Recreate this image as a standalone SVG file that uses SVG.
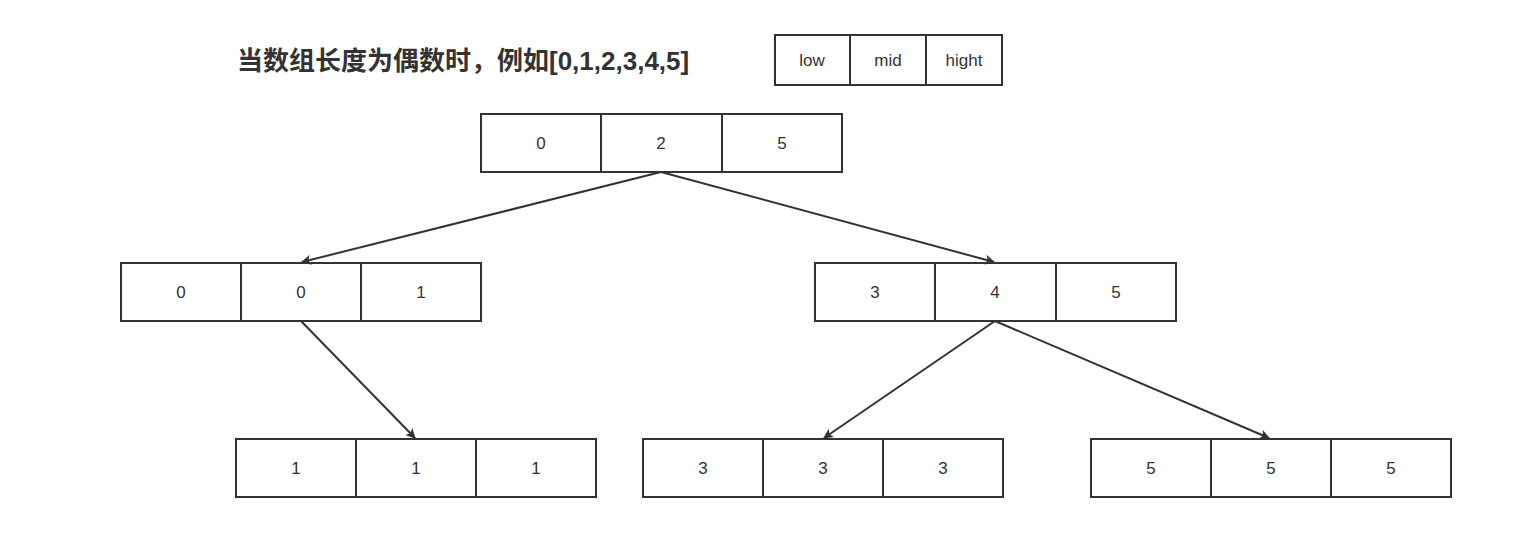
<svg xmlns="http://www.w3.org/2000/svg" width="1530" height="560" viewBox="0 0 1530 560">
<style>
.c{fill:#fff;stroke:#333;stroke-width:2}
.t{font-family:"Liberation Sans","Noto Sans CJK SC",sans-serif;font-size:17px;fill:#333;text-anchor:middle;dominant-baseline:central}
.e{stroke:#333;stroke-width:2;fill:none;marker-end:url(#a)}
</style>
<defs><marker id="a" markerWidth="10" markerHeight="10" refX="9" refY="5" orient="auto" markerUnits="userSpaceOnUse"><path d="M0,0 L10,5 L0,10 L2.5,5 Z" fill="#333"/></marker></defs>
<rect width="1530" height="560" fill="#fff"/>
<text x="237" y="61" style="font-family:'Liberation Sans','Noto Sans CJK SC',sans-serif;font-size:26px;font-weight:bold;fill:#333;dominant-baseline:central">当数组长度为偶数时，例如[0,1,2,3,4,5]</text>
<g id="legend"><rect class="c" x="775" y="35" width="75" height="50"/><rect class="c" x="850" y="35" width="76" height="50"/><rect class="c" x="926" y="35" width="76" height="50"/>
<text class="t" x="812" y="60">low</text><text class="t" x="888" y="60">mid</text><text class="t" x="964" y="60">hight</text></g>
<g id="n1"><rect class="c" x="481" y="114" width="120" height="58"/><rect class="c" x="601" y="114" width="121" height="58"/><rect class="c" x="722" y="114" width="120" height="58"/>
<text class="t" x="541" y="143">0</text><text class="t" x="661" y="143">2</text><text class="t" x="782" y="143">5</text></g>
<g id="n2"><rect class="c" x="121" y="263" width="120" height="58"/><rect class="c" x="241" y="263" width="120" height="58"/><rect class="c" x="361" y="263" width="120" height="58"/>
<text class="t" x="181" y="292">0</text><text class="t" x="301" y="292">0</text><text class="t" x="421" y="292">1</text></g>
<g id="n3"><rect class="c" x="815" y="263" width="120" height="58"/><rect class="c" x="935" y="263" width="121" height="58"/><rect class="c" x="1056" y="263" width="120" height="58"/>
<text class="t" x="875" y="292">3</text><text class="t" x="995" y="292">4</text><text class="t" x="1116" y="292">5</text></g>
<g id="n4"><rect class="c" x="236" y="439" width="120" height="58"/><rect class="c" x="356" y="439" width="120" height="58"/><rect class="c" x="476" y="439" width="120" height="58"/>
<text class="t" x="296" y="468">1</text><text class="t" x="416" y="468">1</text><text class="t" x="536" y="468">1</text></g>
<g id="n5"><rect class="c" x="643" y="439" width="120" height="58"/><rect class="c" x="763" y="439" width="120" height="58"/><rect class="c" x="883" y="439" width="120" height="58"/>
<text class="t" x="703" y="468">3</text><text class="t" x="823" y="468">3</text><text class="t" x="943" y="468">3</text></g>
<g id="n6"><rect class="c" x="1091" y="439" width="120" height="58"/><rect class="c" x="1211" y="439" width="120" height="58"/><rect class="c" x="1331" y="439" width="120" height="58"/>
<text class="t" x="1151" y="468">5</text><text class="t" x="1271" y="468">5</text><text class="t" x="1391" y="468">5</text></g>
<g id="edges">
<line class="e" x1="661" y1="172" x2="302" y2="262"/>
<line class="e" x1="661" y1="172" x2="994" y2="262"/>
<line class="e" x1="301" y1="321" x2="415" y2="438"/>
<line class="e" x1="995" y1="321" x2="824" y2="438"/>
<line class="e" x1="995" y1="321" x2="1269" y2="438"/>
</g>
</svg>
